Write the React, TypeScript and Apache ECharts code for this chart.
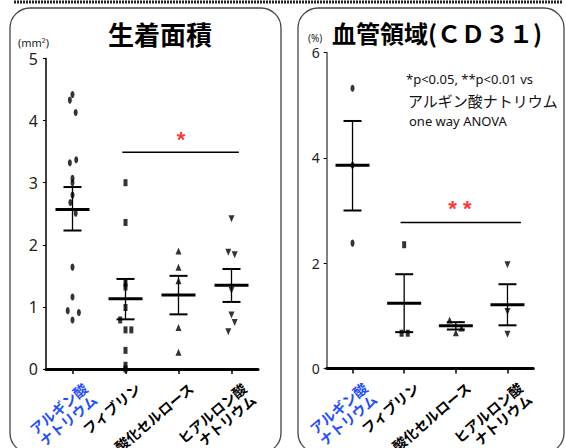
import React, { useEffect, useRef } from 'react';
import * as echarts from 'echarts';

const categories = ['アルギン酸\nナトリウム', 'フィブリン', '酸化セルロース', 'ヒアルロン酸\nナトリウム'];
const categoryColors = ['#1f4fff', '#000', '#000', '#000'];

// 生着面積 (mm2): individual values and small horizontal jitter (category units)
const areaAlginate = [4.33, 4.42, 4.13, 3.32, 3.37, 3.07, 3.0, 2.8, 2.68, 2.51, 1.64, 1.16, 0.94, 0.91, 0.79];
const areaAlginateJit = [-0.05, 0, 0.06, -0.05, 0.07, 0, 0, 0, -0.04, 0.06, 0, 0, -0.09, 0.12, 0];
const areaFibrin = [3.0, 2.36, 1.38, 1.32, 0.99, 0.79, 0.63, 0.63, 0.3, 0.06, 0.0];
const areaFibrinJit = [0, 0, 0, 0, 0, -0.1, 0, 0.11, 0, 0, 0];
const areaCellulose = [1.9, 1.64, 1.42, 0.67, 0.27];
const areaCelluloseJit = [0, 0, 0, 0, 0];
const areaHyaluronic = [2.42, 1.88, 1.84, 1.27, 0.87, 0.75, 0.6];
const areaHyaluronicJit = [0, -0.06, 0.06, 0, 0, 0.06, -0.06];
const areaMean = [2.57, 1.13, 1.19, 1.35];
const areaLow = [2.23, 0.8, 0.88, 1.08];
const areaHigh = [2.93, 1.45, 1.5, 1.61];
const areaSig = { from: 0.94, to: 3.14, y: 3.49, labelX: 2.05, labelY: 3.69, text: '*' };

// 血管領域 (CD31) (%)
const vesAlginate = [5.32, 3.86, 2.38];
const vesAlginateJit = [0, 0, 0];
const vesFibrin = [2.35, 0.67, 0.67];
const vesFibrinJit = [0, -0.05, 0.07];
const vesCellulose = [0.92, 0.77, 0.68];
const vesCelluloseJit = [-0.12, 0.11, 0];
const vesHyaluronic = [1.97, 1.08, 0.65];
const vesHyaluronicJit = [0, 0, 0];
const vesMean = [3.86, 1.24, 0.81, 1.21];
const vesLow = [3.0, 0.69, 0.74, 0.82];
const vesHigh = [4.7, 1.79, 0.88, 1.6];
const vesSig = { from: 0.93, to: 3.26, y: 2.77, labelX: 2.08, labelY: 3.04, text: '* *' };

const JP = '"Noto Sans CJK JP", "Noto Sans", sans-serif';

function pts(vals: number[], jit: number[], idx: number) {
  return vals.map((v, i) => [idx + jit[i], v]);
}

const markers = [
  { symbol: 'circle', size: [4, 7], rotate: 0 },
  { symbol: 'rect', size: [4, 7], rotate: 0 },
  { symbol: 'triangle', size: [6, 7], rotate: 0 },
  { symbol: 'triangle', size: [6, 7], rotate: 180 },
];

function panelSeries(
  xValueAxis: number,
  yAxis: number,
  groups: number[][][],
  mean: number[],
  low: number[],
  high: number[],
  sig: { from: number; to: number; y: number; labelX: number; labelY: number; text: string }
) {
  const s: any[] = [];
  groups.forEach((g, i) => {
    s.push({
      type: 'scatter',
      xAxisIndex: xValueAxis,
      yAxisIndex: yAxis,
      symbol: markers[i].symbol,
      symbolSize: markers[i].size,
      symbolRotate: markers[i].rotate,
      itemStyle: { color: '#000' },
      data: g,
      z: 3,
    });
  });
  s.push({
    type: 'custom',
    xAxisIndex: xValueAxis,
    yAxisIndex: yAxis,
    z: 4,
    data: mean.map((m, i) => [i, m, low[i], high[i]]),
    encode: { x: 0, y: [1, 2, 3] },
    renderItem: (params: any, api: any) => {
      const x = api.value(0);
      const pm = api.coord([x, api.value(1)]);
      const pl = api.coord([x, api.value(2)]);
      const ph = api.coord([x, api.value(3)]);
      const st = { stroke: '#000', lineWidth: 1.3 };
      return {
        type: 'group',
        children: [
          { type: 'line', shape: { x1: ph[0], y1: ph[1], x2: pl[0], y2: pl[1] }, style: st },
          { type: 'line', shape: { x1: ph[0] - 9, y1: ph[1], x2: ph[0] + 9, y2: ph[1] }, style: { stroke: '#000', lineWidth: 2 } },
          { type: 'line', shape: { x1: pl[0] - 9, y1: pl[1], x2: pl[0] + 9, y2: pl[1] }, style: { stroke: '#000', lineWidth: 2 } },
          { type: 'line', shape: { x1: pm[0] - 17, y1: pm[1], x2: pm[0] + 17, y2: pm[1] }, style: { stroke: '#000', lineWidth: 3 } },
        ],
      };
    },
  });
  s.push({
    type: 'line',
    xAxisIndex: xValueAxis,
    yAxisIndex: yAxis,
    data: [[sig.from, sig.y], [sig.to, sig.y]],
    symbol: 'none',
    lineStyle: { color: '#000', width: 1.5 },
    z: 2,
  });
  s.push({
    type: 'scatter',
    xAxisIndex: xValueAxis,
    yAxisIndex: yAxis,
    symbolSize: 0,
    data: [[sig.labelX, sig.labelY]],
    label: {
      show: true,
      position: 'inside',
      formatter: sig.text,
      color: '#ff0000',
      fontSize: 22,
      fontWeight: 'bold',
      fontFamily: 'Liberation Sans, sans-serif',
    },
    z: 5,
  });
  return s;
}

function catAxis(gridIndex: number) {
  return {
    type: 'category',
    gridIndex,
    data: categories,
    axisLine: { show: true, onZero: false, lineStyle: { color: '#000', width: 3 } },
    axisTick: { show: true, alignWithLabel: true, length: 5, lineStyle: { color: '#000', width: 1.5 } },
    axisLabel: {
      rotate: 40,
      margin: 2,
      interval: 0,
      fontSize: 14,
      lineHeight: 15,
      fontWeight: 'bold',
      fontFamily: JP,
      verticalAlign: 'top',
      align: 'right',
      padding: [12, 0, 0, 0],
      color: (v: any, i: number) => categoryColors[i],
    },
    splitLine: { show: false },
  };
}

function valXAxis(gridIndex: number) {
  return { type: 'value', gridIndex, min: -0.5, max: 3.5, show: false };
}

export default function App() {
  const ref = useRef<HTMLDivElement>(null);
  useEffect(() => {
    if (!ref.current) return;
    const chart = echarts.init(ref.current, undefined, { renderer: 'svg' });
    const option: any = {
      animation: false,
      backgroundColor: '#fff',
      grid: [
        { left: 46, top: 58.5, width: 212, height: 310.5, containLabel: false, outerBoundsMode: 'none' },
        { left: 326.7, top: 52.5, width: 206.6, height: 316, containLabel: false, outerBoundsMode: 'none' },
      ],
      xAxis: [catAxis(0), valXAxis(0), catAxis(1), valXAxis(1)],
      yAxis: [
        {
          type: 'value', gridIndex: 0, min: 0, max: 5, interval: 1,
          axisLine: { show: true, onZero: false, lineStyle: { color: '#000', width: 1.5 } },
          axisTick: { show: true, length: 3, lineStyle: { color: '#000' } },
          axisLabel: { fontSize: 16, color: '#222', margin: 8, fontFamily: 'Noto Sans, sans-serif' },
          splitLine: { show: false },
        },
        {
          type: 'value', gridIndex: 1, min: 0, max: 6, interval: 2,
          axisLine: { show: true, onZero: false, lineStyle: { color: '#555', width: 1.5 } },
          axisTick: { show: true, length: 3, lineStyle: { color: '#000' } },
          axisLabel: { fontSize: 14, color: '#222', margin: 7, fontFamily: 'Noto Sans, sans-serif' },
          splitLine: { show: false },
        },
      ],
      series: [
        ...panelSeries(1, 0,
          [pts(areaAlginate, areaAlginateJit, 0), pts(areaFibrin, areaFibrinJit, 1), pts(areaCellulose, areaCelluloseJit, 2), pts(areaHyaluronic, areaHyaluronicJit, 3)],
          areaMean, areaLow, areaHigh, areaSig),
        ...panelSeries(3, 1,
          [pts(vesAlginate, vesAlginateJit, 0), pts(vesFibrin, vesFibrinJit, 1), pts(vesCellulose, vesCelluloseJit, 2), pts(vesHyaluronic, vesHyaluronicJit, 3)],
          vesMean, vesLow, vesHigh, vesSig),
      ],
      graphic: [
        { type: 'line', shape: { x1: 14, y1: 2, x2: 562, y2: 2 }, style: { stroke: '#222', lineWidth: 3, lineDash: [2, 1] }, silent: true, z: 100 },
        { type: 'rect', shape: { x: 10, y: 8, width: 271, height: 445, r: 20 }, style: { fill: 'none', stroke: '#444', lineWidth: 1.3 }, silent: true },
        { type: 'rect', shape: { x: 298, y: 8, width: 266, height: 445, r: 20 }, style: { fill: 'none', stroke: '#444', lineWidth: 1.3 }, silent: true },
        { type: 'text', x: 160, y: 33, style: { text: '生着面積', font: `bold 26px ${JP}`, fill: '#000', textAlign: 'center', textVerticalAlign: 'middle' } },
        { type: 'text', x: 437, y: 32, style: { text: '血管領域(ＣＤ３１)', font: `bold 24px ${JP}`, fill: '#000', textAlign: 'center', textVerticalAlign: 'middle' } },
        { type: 'text', x: 18, y: 42, style: { text: '(mm²)', font: `11px "Noto Sans", sans-serif`, fill: '#222', textVerticalAlign: 'middle' } },
        { type: 'text', x: 308, y: 37.5, style: { text: '(%)', font: `10px "Noto Sans", sans-serif`, fill: '#222', textVerticalAlign: 'middle' } },
        { type: 'text', x: 406, y: 79, style: { text: '*p<0.05, **p<0.01 vs', font: `13px "Noto Sans", sans-serif`, fill: '#111', textVerticalAlign: 'middle' } },
        { type: 'text', x: 408, y: 100, style: { text: 'アルギン酸ナトリウム', font: `15px ${JP}`, fill: '#111', textVerticalAlign: 'middle' } },
        { type: 'text', x: 409, y: 121, style: { text: 'one way ANOVA', font: `13px "Noto Sans", sans-serif`, fill: '#111', textVerticalAlign: 'middle' } },
      ],
    };
    chart.setOption(option);
    return () => chart.dispose();
  }, []);
  return <div ref={ref} style={{ position: 'fixed', left: 0, top: 0, width: 566, height: 448, background: '#fff' }} />;
}
